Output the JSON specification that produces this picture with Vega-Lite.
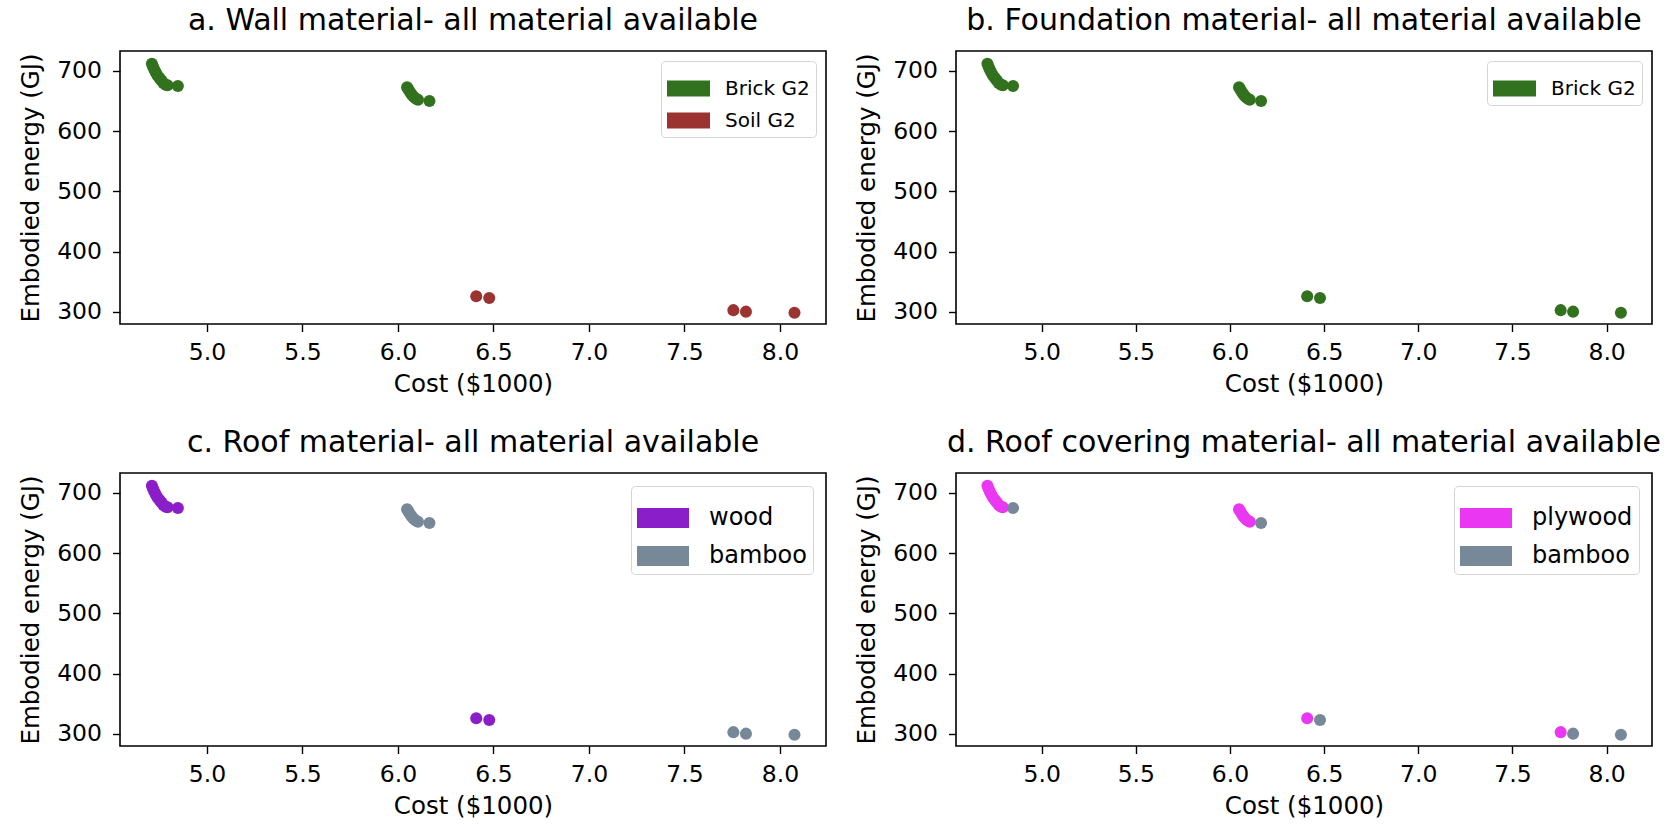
{
  "$schema": "https://vega.github.io/schema/vega-lite/v6.json",
  "background": "white",
  "padding": {"left": 17, "top": 5, "right": 4, "bottom": 5},
  "data": {
    "values": [
      {"cost": 4.712, "energy": 712, "wall": "Brick G2", "foundation": "Brick G2", "roof": "wood", "covering": "plywood"},
      {"cost": 4.718, "energy": 707, "wall": "Brick G2", "foundation": "Brick G2", "roof": "wood", "covering": "plywood"},
      {"cost": 4.725, "energy": 702, "wall": "Brick G2", "foundation": "Brick G2", "roof": "wood", "covering": "plywood"},
      {"cost": 4.733, "energy": 697, "wall": "Brick G2", "foundation": "Brick G2", "roof": "wood", "covering": "plywood"},
      {"cost": 4.742, "energy": 692, "wall": "Brick G2", "foundation": "Brick G2", "roof": "wood", "covering": "plywood"},
      {"cost": 4.752, "energy": 688, "wall": "Brick G2", "foundation": "Brick G2", "roof": "wood", "covering": "plywood"},
      {"cost": 4.762, "energy": 684, "wall": "Brick G2", "foundation": "Brick G2", "roof": "wood", "covering": "plywood"},
      {"cost": 4.772, "energy": 680, "wall": "Brick G2", "foundation": "Brick G2", "roof": "wood", "covering": "plywood"},
      {"cost": 4.784, "energy": 677, "wall": "Brick G2", "foundation": "Brick G2", "roof": "wood", "covering": "plywood"},
      {"cost": 4.794, "energy": 676, "wall": "Brick G2", "foundation": "Brick G2", "roof": "wood", "covering": "plywood"},
      {"cost": 4.848, "energy": 675, "wall": "Brick G2", "foundation": "Brick G2", "roof": "wood", "covering": "bamboo"},
      {"cost": 6.048, "energy": 673, "wall": "Brick G2", "foundation": "Brick G2", "roof": "bamboo", "covering": "plywood"},
      {"cost": 6.055, "energy": 669, "wall": "Brick G2", "foundation": "Brick G2", "roof": "bamboo", "covering": "plywood"},
      {"cost": 6.063, "energy": 665, "wall": "Brick G2", "foundation": "Brick G2", "roof": "bamboo", "covering": "plywood"},
      {"cost": 6.072, "energy": 661, "wall": "Brick G2", "foundation": "Brick G2", "roof": "bamboo", "covering": "plywood"},
      {"cost": 6.082, "energy": 657, "wall": "Brick G2", "foundation": "Brick G2", "roof": "bamboo", "covering": "plywood"},
      {"cost": 6.093, "energy": 654, "wall": "Brick G2", "foundation": "Brick G2", "roof": "bamboo", "covering": "plywood"},
      {"cost": 6.105, "energy": 652, "wall": "Brick G2", "foundation": "Brick G2", "roof": "bamboo", "covering": "plywood"},
      {"cost": 6.165, "energy": 650, "wall": "Brick G2", "foundation": "Brick G2", "roof": "bamboo", "covering": "bamboo"},
      {"cost": 6.41, "energy": 326, "wall": "Soil G2", "foundation": "Brick G2", "roof": "wood", "covering": "plywood"},
      {"cost": 6.478, "energy": 323, "wall": "Soil G2", "foundation": "Brick G2", "roof": "wood", "covering": "bamboo"},
      {"cost": 7.756, "energy": 303, "wall": "Soil G2", "foundation": "Brick G2", "roof": "bamboo", "covering": "plywood"},
      {"cost": 7.822, "energy": 300.5, "wall": "Soil G2", "foundation": "Brick G2", "roof": "bamboo", "covering": "bamboo"},
      {"cost": 8.076, "energy": 298.5, "wall": "Soil G2", "foundation": "Brick G2", "roof": "bamboo", "covering": "bamboo"}
    ]
  },
  "columns": 2,
  "bounds": "flush",
  "spacing": {"row": 149, "column": 130},
  "resolve": {
    "scale": {"color": "independent", "x": "independent", "y": "independent"},
    "legend": {"color": "independent"},
    "axis": {"x": "independent", "y": "independent"}
  },
  "concat": [
    {
      "title": "a. Wall material- all material available",
      "width": 706,
      "height": 273,
      "mark": {"type": "point", "filled": true, "opacity": 1, "size": 145},
      "encoding": {
        "x": {"field": "cost", "type": "quantitative", "title": "Cost ($1000)", "scale": {"domain": [4.545, 8.241], "nice": false, "zero": false}, "axis": {"values": [5, 5.5, 6, 6.5, 7, 7.5, 8], "format": ".1f"}},
        "y": {"field": "energy", "type": "quantitative", "title": "Embodied energy (GJ)", "scale": {"domain": [280, 733], "nice": false, "zero": false}, "axis": {"values": [300, 400, 500, 600, 700]}},
        "color": {
          "field": "wall", "type": "nominal",
          "scale": {"domain": ["Brick G2", "Soil G2"], "range": ["#32721f", "#9b3430"]},
          "legend": {"labelFontSize": 20, "symbolSize": 1849, "symbolType": "M-1,-0.37H1V0.37H-1Z", "rowPadding": -13, "labelOffset": 15, "offset": 10, "padding": 6}
        }
      }
    },
    {
      "title": "b. Foundation material- all material available",
      "width": 696,
      "height": 273,
      "mark": {"type": "point", "filled": true, "opacity": 1, "size": 145},
      "encoding": {
        "x": {"field": "cost", "type": "quantitative", "title": "Cost ($1000)", "scale": {"domain": [4.545, 8.241], "nice": false, "zero": false}, "axis": {"values": [5, 5.5, 6, 6.5, 7, 7.5, 8], "format": ".1f"}},
        "y": {"field": "energy", "type": "quantitative", "title": "Embodied energy (GJ)", "scale": {"domain": [280, 733], "nice": false, "zero": false}, "axis": {"values": [300, 400, 500, 600, 700]}},
        "color": {
          "field": "foundation", "type": "nominal",
          "scale": {"domain": ["Brick G2"], "range": ["#32721f"]},
          "legend": {"labelFontSize": 20, "symbolSize": 1849, "symbolType": "M-1,-0.37H1V0.37H-1Z", "rowPadding": -13, "labelOffset": 15, "offset": 10, "padding": 6}
        }
      }
    },
    {
      "title": "c. Roof material- all material available",
      "width": 706,
      "height": 273,
      "mark": {"type": "point", "filled": true, "opacity": 1, "size": 145},
      "encoding": {
        "x": {"field": "cost", "type": "quantitative", "title": "Cost ($1000)", "scale": {"domain": [4.545, 8.241], "nice": false, "zero": false}, "axis": {"values": [5, 5.5, 6, 6.5, 7, 7.5, 8], "format": ".1f"}},
        "y": {"field": "energy", "type": "quantitative", "title": "Embodied energy (GJ)", "scale": {"domain": [280, 733], "nice": false, "zero": false}, "axis": {"values": [300, 400, 500, 600, 700]}},
        "color": {
          "field": "roof", "type": "nominal",
          "scale": {"domain": ["wood", "bamboo"], "range": ["#8a1ec8", "#778899"]},
          "legend": {"labelFontSize": 24, "symbolSize": 2704, "symbolType": "M-1,-0.385H1V0.385H-1Z", "rowPadding": -15, "labelOffset": 20, "offset": 13, "padding": 6}
        }
      }
    },
    {
      "title": "d. Roof covering material- all material available",
      "width": 696,
      "height": 273,
      "mark": {"type": "point", "filled": true, "opacity": 1, "size": 145},
      "encoding": {
        "x": {"field": "cost", "type": "quantitative", "title": "Cost ($1000)", "scale": {"domain": [4.545, 8.241], "nice": false, "zero": false}, "axis": {"values": [5, 5.5, 6, 6.5, 7, 7.5, 8], "format": ".1f"}},
        "y": {"field": "energy", "type": "quantitative", "title": "Embodied energy (GJ)", "scale": {"domain": [280, 733], "nice": false, "zero": false}, "axis": {"values": [300, 400, 500, 600, 700]}},
        "color": {
          "field": "covering", "type": "nominal",
          "scale": {"domain": ["plywood", "bamboo"], "range": ["#ea38f2", "#778899"]},
          "legend": {"labelFontSize": 24, "symbolSize": 2704, "symbolType": "M-1,-0.385H1V0.385H-1Z", "rowPadding": -15, "labelOffset": 20, "offset": 13, "padding": 6}
        }
      }
    }
  ],
  "config": {
    "font": "DejaVu Sans",
    "view": {"stroke": "black", "strokeWidth": 1.6},
    "title": {"fontSize": 30, "fontWeight": "normal", "color": "black", "font": "DejaVu Sans", "baseline": "alphabetic", "offset": 15},
    "axis": {
      "grid": false,
      "domain": false,
      "tickColor": "black",
      "tickSize": 7.5,
      "tickWidth": 1.4,
      "labelColor": "black",
      "labelFont": "DejaVu Sans",
      "labelFontSize": 23.5,
      "titleColor": "black",
      "titleFont": "DejaVu Sans",
      "titleFontSize": 24.5,
      "titleFontWeight": "normal"
    },
    "axisX": {"labelPadding": 9, "titlePadding": 8, "labelFlush": false},
    "axisY": {"labelPadding": 11, "titlePadding": 13},
    "legend": {
      "orient": "top-right",
      "title": null,
      "labelColor": "black",
      "labelFont": "DejaVu Sans",
      "strokeColor": "#d4d4d4",
      "cornerRadius": 4,
      "fillColor": "white",
      "symbolStrokeWidth": 0,
      "symbolOpacity": 1
    }
  }
}
